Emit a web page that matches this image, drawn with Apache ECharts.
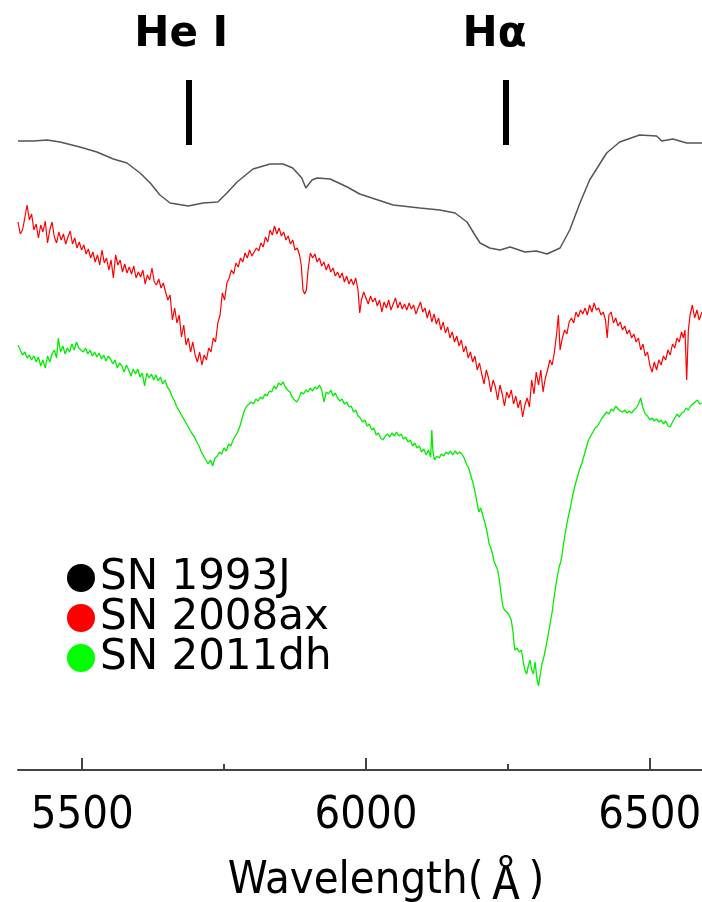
<!DOCTYPE html>
<html>
<head>
<meta charset="utf-8">
<script src="https://cdn.jsdelivr.net/npm/echarts@6/dist/echarts.min.js"></script>
<style>html,body{margin:0;padding:0;background:#fff;}#chart{width:702px;height:902px;}</style>
</head>
<body>
<div id="chart"></div>
<script>
// [wavelength (Angstrom), relative flux (arbitrary units incl. offset)]
const sn1993j = [[5387,629],[5414,629],[5438,630],[5461,628],[5496,623],[5526,618],[5555,611],[5579,607],[5602,597],[5620,587],[5637,575],[5655,567],[5687,564],[5713,567],[5739,568],[5755,577],[5773,588],[5801,601],[5831,606],[5854,606],[5871,602],[5887,592],[5894,582],[5905,590],[5914,592],[5937,591],[5967,583],[5989,576],[6048,565],[6095,562],[6130,560],[6157,557],[6178,548],[6192,535],[6201,527],[6218,522],[6236,520],[6254,523],[6280,518],[6300,519],[6319,516],[6342,522],[6359,540],[6377,567],[6394,590],[6424,617],[6447,628],[6482,635],[6512,634],[6521,629],[6541,631],[6565,627],[6592,627]];

const sn2008ax = [[5387,548],[5391,536],[5395,540],[5399,552],[5403,565],[5407,550],[5411,556],[5415,540],[5419,546],[5423,532],[5427,545],[5431,538],[5435,549],[5439,527],[5443,540],[5447,548],[5451,533],[5455,527],[5459,538],[5463,530],[5467,536],[5471,526],[5475,533],[5479,539],[5483,526],[5487,532],[5491,522],[5495,528],[5499,520],[5503,525],[5507,516],[5511,521],[5515,512],[5519,518],[5523,508],[5527,515],[5531,505],[5535,520],[5539,507],[5543,512],[5547,500],[5551,510],[5555,492],[5559,515],[5563,505],[5567,510],[5571,498],[5575,506],[5579,497],[5583,503],[5587,496],[5591,504],[5595,492],[5599,498],[5603,493],[5607,500],[5611,486],[5615,495],[5619,490],[5623,502],[5627,488],[5631,485],[5635,491],[5639,482],[5643,487],[5647,478],[5651,470],[5655,475],[5659,450],[5663,462],[5667,447],[5671,455],[5675,433],[5679,445],[5683,425],[5687,432],[5691,418],[5695,428],[5699,415],[5703,408],[5707,418],[5711,405],[5715,415],[5719,410],[5723,422],[5727,418],[5731,432],[5735,428],[5739,447],[5743,455],[5747,477],[5751,470],[5755,487],[5759,492],[5763,500],[5767,496],[5771,507],[5775,503],[5779,512],[5783,508],[5787,517],[5791,512],[5795,520],[5799,514],[5803,518],[5807,522],[5811,519],[5815,527],[5819,523],[5823,533],[5827,528],[5831,540],[5835,535],[5839,544],[5843,536],[5847,542],[5851,534],[5855,538],[5859,530],[5863,534],[5867,526],[5871,530],[5875,520],[5879,522],[5883,515],[5886,505],[5889,480],[5892,476],[5895,480],[5898,500],[5902,517],[5906,512],[5910,516],[5914,508],[5918,512],[5922,504],[5926,508],[5930,500],[5934,506],[5938,498],[5942,502],[5946,494],[5950,498],[5954,492],[5958,497],[5962,488],[5966,494],[5970,486],[5974,491],[5978,485],[5982,492],[5986,480],[5989,457],[5992,470],[5996,478],[6000,472],[6004,466],[6008,474],[6012,468],[6016,472],[6020,464],[6024,470],[6028,458],[6032,468],[6036,462],[6040,470],[6044,460],[6048,466],[6052,472],[6056,462],[6060,468],[6064,461],[6068,466],[6072,460],[6076,467],[6080,461],[6084,465],[6088,456],[6092,462],[6096,468],[6100,458],[6104,462],[6108,452],[6112,460],[6116,448],[6120,456],[6124,446],[6128,452],[6132,440],[6136,448],[6140,437],[6144,443],[6148,432],[6152,438],[6156,428],[6160,434],[6164,424],[6168,430],[6172,418],[6176,424],[6180,412],[6184,418],[6188,408],[6192,414],[6196,400],[6200,407],[6204,396],[6208,386],[6212,400],[6216,392],[6220,378],[6224,390],[6228,383],[6232,370],[6236,385],[6240,376],[6244,364],[6248,378],[6252,372],[6256,380],[6260,366],[6264,374],[6268,362],[6272,370],[6276,353],[6280,365],[6284,372],[6288,363],[6292,390],[6296,376],[6300,398],[6304,385],[6308,400],[6312,378],[6316,392],[6320,400],[6324,410],[6328,405],[6332,418],[6336,437],[6339,455],[6342,420],[6346,432],[6350,440],[6354,436],[6358,448],[6362,452],[6366,447],[6370,458],[6374,453],[6378,460],[6382,456],[6386,462],[6390,455],[6394,465],[6398,458],[6402,467],[6406,460],[6410,462],[6414,455],[6418,458],[6422,450],[6425,432],[6428,455],[6432,458],[6436,447],[6440,452],[6444,444],[6448,448],[6452,440],[6456,444],[6460,436],[6464,440],[6468,432],[6472,436],[6476,428],[6480,432],[6484,420],[6488,426],[6492,414],[6496,418],[6500,405],[6504,398],[6508,408],[6512,400],[6516,410],[6520,405],[6524,414],[6528,410],[6532,420],[6536,415],[6540,426],[6544,422],[6548,432],[6552,428],[6556,438],[6559,432],[6562,440],[6565,390],[6568,440],[6571,455],[6575,465],[6579,452],[6583,460],[6587,450],[6592,458]];

const sn2011dh = [[5387,425],[5391,420],[5395,415],[5399,418],[5403,412],[5407,415],[5411,410],[5415,414],[5419,408],[5423,413],[5427,404],[5431,410],[5435,402],[5439,414],[5443,408],[5447,416],[5451,420],[5455,412],[5458,432],[5462,418],[5466,424],[5470,416],[5474,422],[5478,418],[5482,426],[5486,420],[5490,428],[5494,422],[5498,420],[5502,418],[5506,422],[5510,416],[5514,420],[5518,414],[5522,418],[5526,413],[5530,417],[5534,411],[5538,415],[5542,409],[5546,414],[5550,411],[5554,406],[5558,410],[5562,402],[5566,407],[5570,404],[5574,398],[5578,405],[5582,400],[5586,394],[5590,401],[5594,396],[5598,401],[5602,393],[5606,397],[5610,384],[5614,397],[5618,392],[5622,396],[5626,390],[5630,395],[5634,389],[5638,393],[5642,386],[5646,390],[5650,383],[5654,380],[5658,374],[5662,370],[5666,364],[5670,360],[5674,356],[5678,352],[5682,348],[5686,344],[5690,340],[5694,336],[5698,333],[5702,328],[5706,324],[5710,318],[5714,314],[5718,310],[5722,306],[5726,310],[5730,304],[5734,312],[5738,314],[5742,318],[5746,316],[5750,322],[5754,319],[5758,326],[5762,324],[5766,330],[5770,334],[5774,338],[5778,344],[5782,352],[5786,360],[5790,364],[5794,366],[5798,368],[5802,366],[5806,371],[5810,369],[5814,373],[5818,371],[5822,376],[5826,374],[5830,379],[5834,378],[5838,384],[5842,381],[5846,387],[5850,385],[5854,388],[5858,383],[5862,380],[5866,378],[5870,373],[5874,370],[5878,368],[5882,372],[5886,378],[5890,376],[5894,380],[5898,378],[5902,382],[5906,379],[5910,383],[5914,381],[5918,385],[5922,380],[5926,368],[5930,378],[5934,376],[5938,380],[5942,374],[5946,377],[5950,372],[5954,369],[5958,371],[5962,366],[5966,368],[5970,363],[5974,364],[5978,358],[5982,360],[5986,354],[5990,352],[5994,348],[5998,350],[6002,344],[6006,346],[6010,340],[6014,342],[6018,335],[6022,337],[6026,332],[6030,330],[6034,334],[6038,336],[6042,333],[6046,337],[6050,334],[6054,338],[6058,334],[6062,336],[6066,331],[6070,333],[6074,328],[6078,330],[6082,324],[6086,327],[6090,322],[6094,324],[6098,318],[6102,321],[6106,315],[6110,320],[6114,313],[6116,340],[6118,318],[6121,310],[6125,314],[6129,312],[6133,316],[6137,314],[6141,318],[6145,316],[6149,319],[6153,315],[6157,319],[6161,316],[6165,318],[6169,316],[6173,312],[6177,306],[6181,302],[6185,294],[6189,286],[6193,276],[6196,266],[6199,258],[6202,262],[6205,256],[6208,250],[6211,244],[6214,236],[6217,226],[6220,222],[6223,216],[6226,208],[6229,204],[6232,200],[6235,190],[6238,176],[6241,164],[6244,160],[6248,158],[6252,155],[6256,150],[6259,138],[6262,120],[6266,122],[6270,118],[6274,120],[6277,108],[6280,100],[6283,96],[6286,104],[6289,110],[6292,100],[6295,96],[6298,108],[6301,92],[6304,84],[6307,95],[6310,106],[6313,112],[6316,120],[6320,132],[6324,145],[6328,158],[6332,175],[6336,190],[6340,202],[6344,210],[6348,226],[6352,240],[6356,252],[6360,262],[6364,274],[6368,284],[6372,292],[6376,300],[6380,306],[6384,314],[6388,322],[6392,330],[6396,334],[6400,338],[6404,342],[6408,344],[6412,348],[6416,352],[6420,355],[6424,358],[6428,356],[6432,361],[6436,359],[6440,364],[6444,361],[6448,359],[6452,358],[6456,360],[6460,357],[6464,359],[6468,357],[6472,360],[6476,362],[6480,366],[6484,372],[6488,362],[6492,356],[6496,354],[6500,350],[6504,352],[6508,349],[6512,351],[6516,348],[6520,350],[6524,346],[6528,349],[6532,344],[6536,343],[6540,348],[6544,352],[6548,356],[6552,353],[6556,357],[6560,358],[6564,362],[6568,360],[6572,364],[6576,366],[6580,368],[6584,370],[6588,366],[6592,367]];

const seriesNames = ['SN 1993J', 'SN 2008ax', 'SN 2011dh'];
const majorTicks = [5500, 6000, 6500];
const minorTicks = [5750, 6250];
const lineIds = ['He I', 'Hα'];
const lineWave = [5687, 6246];
const lineFluxRange = [625, 690];

const chart = echarts.init(document.getElementById('chart'), null, {renderer: 'canvas'});
const condensed = "'DejaVu Sans Condensed', 'DejaVu Sans', sans-serif";

const option = {
  animation: false,
  backgroundColor: '#fff',
  grid: {left: 18, right: 0, top: 0, bottom: 132, containLabel: false, outerBoundsMode: 'none'},
  legend: {
    data: seriesNames,
    orient: 'vertical',
    left: 62, top: 552,
    icon: 'circle',
    itemWidth: 28, itemHeight: 28, itemGap: -2,
    textStyle: {fontSize: 42, lineHeight: 40, color: '#000', fontFamily: "'DejaVu Sans', sans-serif"}
  },
  xAxis: [{
    type: 'value', min: 5387, max: 6592,
    axisLine: {show: true, lineStyle: {color: '#444', width: 2}},
    axisTick: {show: true, inside: true, length: 12, customValues: majorTicks, lineStyle: {color: '#444', width: 2}},
    axisLabel: {show: true, customValues: majorTicks, formatter: v => String(v), margin: 24, fontSize: 45, color: '#000', fontFamily: condensed},
    splitLine: {show: false},
    name: '{a|Wavelength(}{b|\u212B}{a|)}',
    nameLocation: 'middle', nameGap: 89,
    nameTextStyle: {
      padding: [0, 0, 0, 52],
      rich: {
        a: {fontSize: 45, color: '#000', fontFamily: condensed},
        b: {fontSize: 45, color: '#000', fontFamily: "'Noto Sans CJK JP', sans-serif"}
      }
    }
  }, {
    type: 'value', min: 5387, max: 6592, position: 'bottom',
    axisLine: {show: false},
    axisTick: {show: true, inside: true, length: 6, customValues: minorTicks, lineStyle: {color: '#444', width: 2}},
    axisLabel: {show: false},
    splitLine: {show: false}
  }],
  yAxis: {type: 'value', min: 0, max: 770, show: false},
  series: [
    {
      name: seriesNames[0], type: 'line', xAxisIndex: 0, showSymbol: false, symbol: 'none',
      data: sn1993j,
      itemStyle: {color: '#000'},
      lineStyle: {color: '#555', width: 1.5},
      markLine: {
        silent: true, symbol: ['none', 'none'],
        lineStyle: {color: '#000', width: 6, type: 'solid'},
        label: {show: true, position: 'end', formatter: '{b}', fontSize: 42, fontWeight: 'bold', color: '#000', distance: 24, fontFamily: "'DejaVu Sans', sans-serif"},
        data: lineIds.map((n, i) => [
          {name: n, coord: [lineWave[i], lineFluxRange[0]]},
          {coord: [lineWave[i], lineFluxRange[1]], label: {offset: [i === 0 ? -7 : -11, 0]}}
        ])
      }
    },
    {
      name: seriesNames[1], type: 'line', showSymbol: false, symbol: 'none',
      data: sn2008ax,
      itemStyle: {color: '#ff0000'},
      lineStyle: {color: '#ff0000', width: 1.2}
    },
    {
      name: seriesNames[2], type: 'line', showSymbol: false, symbol: 'none',
      data: sn2011dh,
      itemStyle: {color: '#00ff00'},
      lineStyle: {color: '#00ee00', width: 1.3}
    }
  ]
};
chart.setOption(option);
</script>
</body>
</html>
